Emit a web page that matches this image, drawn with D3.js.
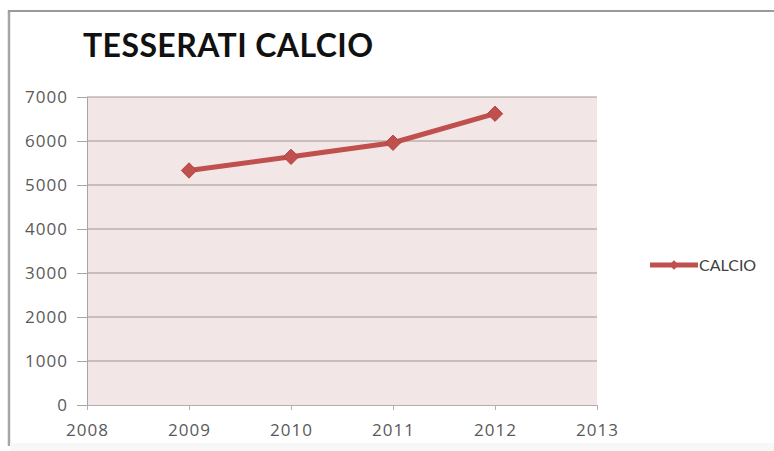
<!DOCTYPE html>
<html>
<head>
<meta charset="utf-8">
<script src="https://cdn.jsdelivr.net/npm/d3@7"></script>
<style>
  html, body { margin: 0; padding: 0; background: #ffffff; }
  svg { display: block; }
</style>
</head>
<body>
<svg id="chart" width="774" height="451"></svg>
<script>
// Membership figures per season
const years = [2009, 2010, 2011, 2012];
const calcio = [5330, 5640, 5960, 6620];
const xTicks = [2008, 2009, 2010, 2011, 2012, 2013];
const yTicks = [0, 1000, 2000, 3000, 4000, 5000, 6000, 7000];
const seriesName = "CALCIO";
const titleText = "TESSERATI CALCIO";

const svg = d3.select("#chart");
const W = 774, H = 451;
const plot = { left: 87, right: 597, top: 97, bottom: 405 };
const red = "#c0504d";
const labelFont = "'Open Sans', sans-serif";

// outer frame (left and top edges of the chart box)
svg.append("rect").attr("x", 0).attr("y", 0).attr("width", W).attr("height", H).attr("fill", "#ffffff");
svg.append("line").attr("x1", 9).attr("x2", 9).attr("y1", 10).attr("y2", 446)
  .attr("stroke", "#a6a6a6").attr("stroke-width", 2.5);
svg.append("line").attr("x1", 8).attr("x2", W).attr("y1", 11).attr("y2", 11)
  .attr("stroke", "#9a9a9a").attr("stroke-width", 2);
svg.append("rect").attr("x", 10).attr("y", 443).attr("width", W - 10).attr("height", 8).attr("fill", "#f7f7f7");

const x = d3.scaleLinear().domain([2008, 2013]).range([plot.left, plot.right]);
const y = d3.scaleLinear().domain([0, 7000]).range([plot.bottom, plot.top]);

// plot background
svg.append("rect")
  .attr("x", plot.left).attr("y", plot.top)
  .attr("width", plot.right - plot.left).attr("height", plot.bottom - plot.top)
  .attr("fill", "#f2e6e6");

// horizontal gridlines
svg.append("g").selectAll("line").data(yTicks.filter(d => d > 0)).join("line")
  .attr("x1", plot.left).attr("x2", plot.right)
  .attr("y1", d => y(d)).attr("y2", d => y(d))
  .attr("stroke", "#9e9696").attr("stroke-width", 1);

// y axis
const yAxis = svg.append("g").attr("transform", `translate(${plot.left},0)`)
  .call(d3.axisLeft(y).tickValues(yTicks).tickSize(10).tickPadding(9).tickFormat(d3.format("d")));
yAxis.select(".domain").attr("stroke", "#a6a6a6");
yAxis.selectAll(".tick line").attr("stroke", "#a6a6a6");
yAxis.selectAll("text").attr("fill", "#5a5a5a")
  .style("font-family", labelFont).style("font-size", "17px").style("letter-spacing", "1px");

// x axis
const xAxis = svg.append("g").attr("transform", `translate(0,${plot.bottom})`)
  .call(d3.axisBottom(x).tickValues(xTicks).tickSize(5).tickPadding(14).tickFormat(d3.format("d")));
xAxis.select(".domain").attr("stroke", "#b0b0b0");
xAxis.selectAll(".tick line").attr("stroke", "#b0b0b0");
xAxis.selectAll("text").attr("fill", "#5a5a5a")
  .style("font-family", labelFont).style("font-size", "17px").style("letter-spacing", "1px");

// series line
const pts = years.map((yr, i) => [yr, calcio[i]]);
svg.append("path").datum(pts)
  .attr("d", d3.line().x(d => x(d[0])).y(d => y(d[1])))
  .attr("fill", "none").attr("stroke", red).attr("stroke-width", 5)
  .attr("stroke-linejoin", "round");

const diamond = d3.symbol().type(d3.symbolDiamond2).size(150);
svg.append("g").selectAll("path").data(pts).join("path")
  .attr("transform", d => `translate(${x(d[0])},${y(d[1])})`)
  .attr("d", diamond)
  .attr("fill", red).attr("stroke", "#b04643").attr("stroke-width", 1);

// title
svg.append("text").attr("x", 83).attr("y", 57)
  .attr("fill", "#111111")
  .style("font-family", "Lato, sans-serif").style("font-weight", "700").style("font-size", "32px")
  .attr("textLength", 290).attr("lengthAdjust", "spacing")
  .text(titleText);

// legend
const lg = svg.append("g").attr("transform", "translate(650,265)");
lg.append("line").attr("x1", 0).attr("x2", 48).attr("y1", 0).attr("y2", 0)
  .attr("stroke", red).attr("stroke-width", 5);
lg.append("path").attr("transform", "translate(24,0)")
  .attr("d", d3.symbol().type(d3.symbolDiamond2).size(60)).attr("fill", red);
lg.append("text").attr("x", 49).attr("y", 6)
  .attr("fill", "#404040")
  .style("font-family", "Lato, sans-serif").style("font-size", "16px")
  .text(seriesName);
</script>
</body>
</html>
